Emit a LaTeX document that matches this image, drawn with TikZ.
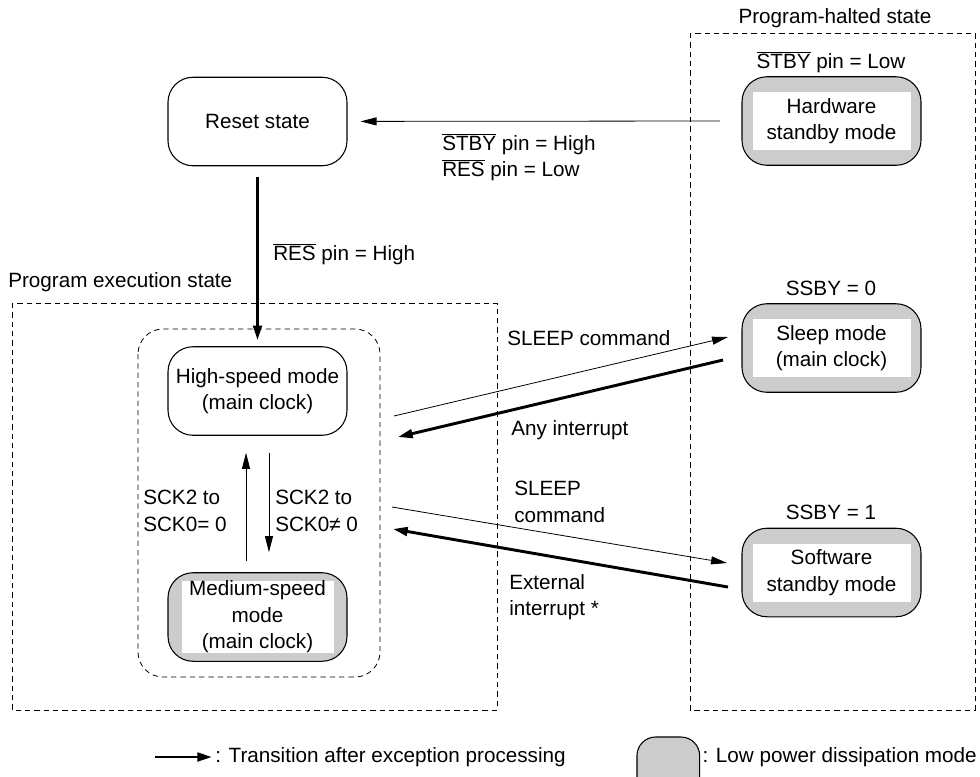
\documentclass[tikz,border=0pt]{standalone}
\usepackage{fontspec}
\setmainfont{Liberation Sans}
\usetikzlibrary{arrows.meta}
\newcommand\ovl[1]{$\overline{\mbox{#1}}$}
\begin{document}
\begin{tikzpicture}[x=0.75pt,y=-0.75pt,
  font=\fontsize{15.5pt}{19.9pt}\selectfont,
  state/.style={draw, line width=0.8pt, rounded corners=18.75pt, minimum width=134.25pt, minimum height=66.4pt, inner sep=0pt, align=center},
  lowp/.style={state, fill=black!20},
  inbox/.style={fill=white, inner sep=0pt, minimum width=118.5pt, minimum height=43.5pt, align=center},
  lbl/.style={inner sep=0pt, align=left, anchor=west},
  clbl/.style={inner sep=0pt, align=center},
  thinarr/.style={line width=0.6pt, -{Triangle[length=12pt,width=6pt]}},
  thickarr/.style={line width=2.2pt, -{Triangle[length=11pt,width=6.5pt]}},
  region/.style={draw, line width=0.6pt, dash pattern=on 4pt off 3pt}]
\useasboundingbox (0,0) rectangle (980,776);
% regions
\draw[region] (690,33) rectangle (975,710);
\draw[region] (12,303) rectangle (497,710);
\draw[region, rounded corners=18.75pt] (138,329) rectangle (380,677);
\node[clbl] (lhalt) at (835,18) {Program-halted state};
\node[lbl] (lexec) at (8,282) {Program execution state};
% states
\node[state] (reset) at (257.5,121.5) {Reset state};
\node[state] (high) at (257.5,391) {High-speed mode\\(main clock)};
\node[lowp] (med) at (257.5,617) {};
\node[inbox, minimum width=114pt, minimum height=49.5pt] (medt) at (med) {Medium-speed\\mode\\(main clock)};
\node[lowp] (hw) at (831.5,121) {};
\node[inbox] (hwt) at (hw) {Hardware\\standby mode};
\node[lowp] (sleep) at (831.5,348) {};
\node[inbox] (sleept) at (sleep) {Sleep mode\\(main clock)};
\node[lowp] (soft) at (831.5,572.5) {};
\node[inbox] (softt) at (soft) {Software\\standby mode};
% labels
\node[clbl] (lstbylow) at (831,62) {\ovl{STBY} pin = Low};
\node[clbl] (lssby0) at (831,288) {SSBY = 0};
\node[clbl] (lssby1) at (831,512) {SSBY = 1};
\node[lbl] (lreshigh) at (273,254) {\ovl{RES} pin = High};
\node[lbl] (lstbyhigh) at (442,157) {\ovl{STBY} pin = High\\\ovl{RES} pin = Low};
\node[lbl] (lsleep1) at (507,338) {SLEEP command};
\node[lbl] (lany) at (511,430) {Any interrupt};
\node[lbl] (lsleep2) at (514,502) {SLEEP\\command};
\node[lbl] (lext) at (509,597) {External\\interrupt *};
\node[lbl] (lsckup) at (143,511) {SCK2 to\\SCK0= 0};
\node[lbl] (lsckdn) at (275,511) {SCK2 to\\SCK0≠ 0};
% connectors
\coordinate (hwfrom) at (720,121);
\draw[thinarr, shorten >=9.75pt] (hwfrom) -- (reset);
\draw[thickarr, shorten <=8.25pt, shorten >=4.5pt] (reset) -- (high);
\draw[thinarr] ([xshift=-8.6pt,yshift=8.25pt]med.north) -- ([xshift=-8.6pt,yshift=-12.75pt]high.south);
\draw[thinarr] ([xshift=8.6pt,yshift=-12.75pt]high.south) -- ([xshift=8.6pt,yshift=15pt]med.north);
\coordinate (s1a) at (394,416); \coordinate (s1b) at (728,337);
\coordinate (s2a) at (723,360); \coordinate (s2b) at (398,437);
\coordinate (t1a) at (392,507); \coordinate (t1b) at (727,563);
\coordinate (t2a) at (728,587); \coordinate (t2b) at (393,529);
\draw[thinarr] (s1a) -- (s1b);
\draw[thickarr] (s2a) -- (s2b);
\draw[thinarr] (t1a) -- (t1b);
\draw[thickarr] (t2a) -- (t2b);
% legend
\coordinate (lg1) at (155,757); \coordinate (lg2) at (212,757);
\draw[thickarr] (lg1) -- (lg2);
\node[lbl] (lgt1) at (215,757) {: Transition after exception processing};
\node[lbl, anchor=east] (lgt2) at (977,757) {: Low power dissipation mode};
\begin{scope}
\clip (0,0) rectangle (980,776);
\draw[fill=black!20, line width=0.8pt, rounded corners=14pt] ([xshift=-49pt]lgt2.west |- 0,737) rectangle ([xshift=-2pt]lgt2.west |- 0,810);
\end{scope}
\end{tikzpicture}
\end{document}
